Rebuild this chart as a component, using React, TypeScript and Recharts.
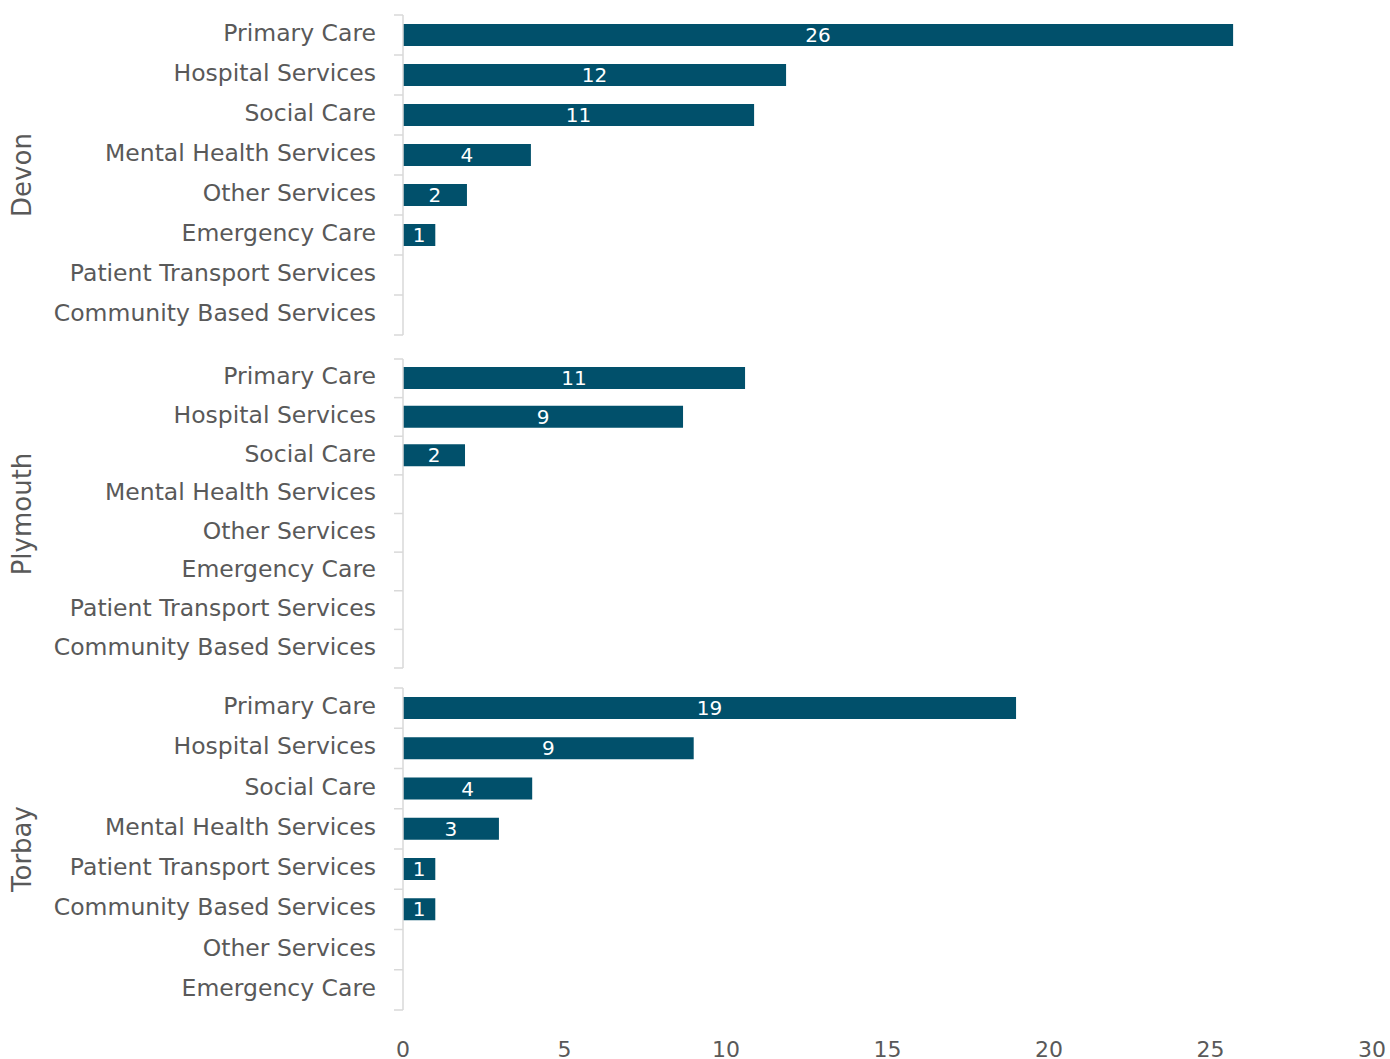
import React from 'react';
import { BarChart, Bar, XAxis, YAxis, LabelList } from 'recharts';

const devonCategories = [
  'Primary Care',
  'Hospital Services',
  'Social Care',
  'Mental Health Services',
  'Other Services',
  'Emergency Care',
  'Patient Transport Services',
  'Community Based Services',
];
const devonValues = [25.7, 11.86, 10.87, 3.96, 1.98, 1, 0, 0];

const plymouthCategories = [
  'Primary Care',
  'Hospital Services',
  'Social Care',
  'Mental Health Services',
  'Other Services',
  'Emergency Care',
  'Patient Transport Services',
  'Community Based Services',
];
const plymouthValues = [10.59, 8.67, 1.92, 0, 0, 0, 0, 0];

const torbayCategories = [
  'Primary Care',
  'Hospital Services',
  'Social Care',
  'Mental Health Services',
  'Patient Transport Services',
  'Community Based Services',
  'Other Services',
  'Emergency Care',
];
const torbayValues = [18.98, 9.0, 4.0, 2.97, 1, 1, 0, 0];

const xTicks = [0, 5, 10, 15, 20, 25, 30];

const BAR_COLOR = '#01506b';
const TEXT_COLOR = '#595959';
const AXIS_COLOR = '#d9d9d9';
const FONT = '"DejaVu Sans", "Open Sans", sans-serif';

const W = 1390;
const AXIS_X = 403;
const TICK_SIZE = 8;
const TICK_MARGIN = 19;

const CategoryTick = (props: any) => {
  const { x, y, payload, index, band, count } = props;
  const ax = x + TICK_SIZE + TICK_MARGIN;
  return (
    <g>
      <line x1={ax - 9} x2={ax} y1={y - band / 2} y2={y - band / 2} stroke={AXIS_COLOR} strokeWidth={1.5} />
      {index === count - 1 && (
        <line x1={ax - 9} x2={ax} y1={y + band / 2} y2={y + band / 2} stroke={AXIS_COLOR} strokeWidth={1.5} />
      )}
      <text x={x} y={y - 2} textAnchor="end" dominantBaseline="central" fill={TEXT_COLOR} fontSize={23.5} fontFamily={FONT}>
        {payload.value}
      </text>
    </g>
  );
};

const fmt = (v: any) => (v > 0 ? String(Math.round(v)) : '');

interface PanelProps {
  name: string;
  categories: string[];
  values: number[];
  top: number;
  marginTop: number;
  plotHeight: number;
  showX: boolean;
}

const Panel: React.FC<PanelProps> = ({ name, categories, values, top, marginTop, plotHeight, showX }) => {
  const rows = categories.map((c, i) => ({ category: c, value: values[i] }));
  const xHeight = showX ? 49 : 0;
  const bottom = showX ? 0 : 5;
  const height = marginTop + plotHeight + xHeight + bottom;
  const band = plotHeight / categories.length;
  return (
    <div style={{ position: 'absolute', left: 0, top, width: W, height }}>
      <BarChart
        width={W}
        height={height}
        data={rows}
        layout="vertical"
        margin={{ top: marginTop, right: 18, bottom, left: 43 }}
        barCategoryGap={0}
      >
        <XAxis
          type="number"
          domain={[0, 30]}
          ticks={xTicks}
          hide={!showX}
          height={xHeight}
          axisLine={false}
          tickLine={false}
          tickMargin={25}
          tick={{ fill: TEXT_COLOR, fontSize: 22, fontFamily: FONT }}
        />
        <YAxis
          type="category"
          dataKey="category"
          width={AXIS_X - 43}
          axisLine={{ stroke: AXIS_COLOR, strokeWidth: 1.5 }}
          tickLine={false}
          tickSize={TICK_SIZE}
          tickMargin={TICK_MARGIN}
          interval={0}
          tick={<CategoryTick band={band} count={categories.length} />}
        />
        <Bar dataKey="value" fill={BAR_COLOR} barSize={22} isAnimationActive={false}>
          <LabelList dataKey="value" position="center" formatter={fmt} fill="#ffffff" fontSize={20} fontFamily={FONT} />
        </Bar>
      </BarChart>
      <div
        style={{
          position: 'absolute',
          left: 22,
          top: marginTop + plotHeight / 2,
          transform: 'translate(-50%, -50%) rotate(-90deg)',
          fontFamily: FONT,
          fontSize: 26,
          color: TEXT_COLOR,
          whiteSpace: 'nowrap',
        }}
      >
        {name}
      </div>
    </div>
  );
};

export default function App() {
  return (
    <div style={{ position: 'absolute', left: 0, top: 0, width: W, height: 1059, background: '#ffffff', fontFamily: FONT }}>
      <Panel name="Devon" categories={devonCategories} values={devonValues} top={0} marginTop={15} plotHeight={320} showX={false} />
      <Panel name="Plymouth" categories={plymouthCategories} values={plymouthValues} top={340} marginTop={19} plotHeight={309} showX={false} />
      <Panel name="Torbay" categories={torbayCategories} values={torbayValues} top={673} marginTop={15} plotHeight={322} showX={true} />
    </div>
  );
}
